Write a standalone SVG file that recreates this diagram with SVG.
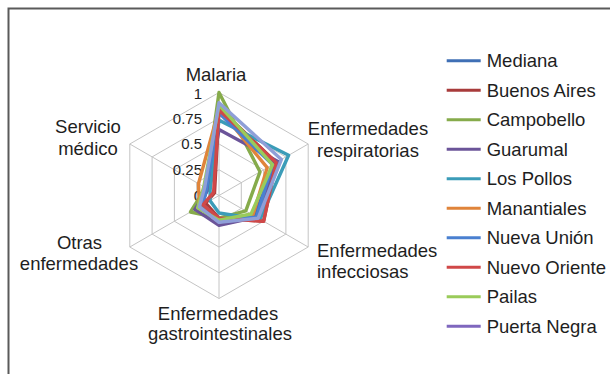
<svg xmlns="http://www.w3.org/2000/svg" width="610" height="374" viewBox="0 0 610 374">
<style>
text{font-family:"Liberation Sans",Arial,sans-serif;fill:#1e1e1e}
.lab{font-size:18.5px}
.tick{font-size:15px;text-anchor:end}
.grid{fill:none;stroke:#c4c4c4;stroke-width:1}
.s{fill:none;stroke-width:3.4;stroke-linejoin:round}
.leg{stroke-width:3}
</style>
<rect width="610" height="374" fill="#fff"/>
<rect x="8.5" y="8.5" width="620" height="390" fill="none" stroke="#5a5a5a" stroke-width="2"/>
<g id="grid">
<polygon class="grid" points="219,92.5 308.2,144 308.2,247 219,298.5 129.8,247 129.8,144"/>
<polygon class="grid" points="219,118.25 285.9,156.9 285.9,234.1 219,272.75 152.1,234.1 152.1,156.9"/>
<polygon class="grid" points="219,144 263.6,169.75 263.6,221.25 219,247 174.4,221.25 174.4,169.75"/>
<polygon class="grid" points="219,169.75 241.3,182.6 241.3,208.4 219,221.25 196.7,208.4 196.7,182.6"/>
<path class="grid" d="M219,195.5V92.5M219,195.5L308.2,144M219,195.5L308.2,247M219,195.5V298.5M219,195.5L129.8,247M219,195.5L129.8,144"/>
</g>
<g id="ticks">
<text class="tick" x="202" y="98.8">1</text>
<text class="tick" x="202" y="123.5">0.75</text>
<text class="tick" x="202" y="149.3">0.5</text>
<text class="tick" x="202" y="175">0.25</text>
<text class="tick" x="202" y="200.8">0</text>
</g>
<g id="axis-labels">
<text class="lab" x="216" y="80.5" text-anchor="middle">Malaria</text>
<text class="lab" x="368" y="134.5" text-anchor="middle">Enfermedades</text>
<text class="lab" x="368" y="156.5" text-anchor="middle">respiratorias</text>
<text class="lab" x="317" y="256.5">Enfermedades</text>
<text class="lab" x="317" y="278.3">infecciosas</text>
<text class="lab" x="218" y="319.8" text-anchor="middle">Enfermedades</text>
<text class="lab" x="220" y="339.8" text-anchor="middle">gastrointestinales</text>
<text class="lab" x="79.5" y="249" text-anchor="middle">Otras</text>
<text class="lab" x="79" y="269.5" text-anchor="middle">enfermedades</text>
<text class="lab" x="88" y="133.3" text-anchor="middle">Servicio</text>
<text class="lab" x="88" y="155" text-anchor="middle">médico</text>
</g>
<g id="series">
<polygon id="s-mediana" class="s" stroke="#3f6fb5" points="219,111 274.3,163.6 254.7,216.1 219,219.2 201.2,205.8 207.4,188.8"/>
<polygon id="s-buenosaires" class="s" stroke="#a83b3b" points="219,107.9 276.1,162.5 263.6,221.25 219,218.2 205.6,203.2 214.5,192.9"/>
<polygon id="s-campobello" class="s" stroke="#86ab4b" points="219,92.5 260,171.8 245.8,210.95 219,218.2 190.5,212 205.6,187.8"/>
<polygon id="s-guarumal" class="s" stroke="#6b5499" points="219,129.6 277.9,161.5 256.5,217.1 219,225.4 194.9,209.4 208.3,189.3"/>
<polygon id="s-lospollos" class="s" stroke="#3b9cb8" points="219,120.3 288.6,155.3 260,219.2 219,213 210.1,200.65 210.1,190.35"/>
<polygon id="s-manantiales" class="s" stroke="#e0843a" points="219,109 267.2,167.7 252.9,215.1 219,221.25 199.4,206.8 198.5,183.7"/>
<polygon id="s-nuevaunion" class="s" stroke="#4a80d0" points="219,113.1 272.5,164.6 256.5,217.1 219,219.2 202.9,204.8 206.5,188.3"/>
<polygon id="s-nuevooriente" class="s" stroke="#d04848" points="219,110 276.1,162.5 263.6,221.25 219,218.2 202.9,204.8 213.6,192.4"/>
<polygon id="s-pailas" class="s" stroke="#9acb5a" points="219,104.9 272.5,164.6 251.1,214 219,220.2 197.6,207.9 203.8,186.7"/>
<polygon id="s-puertanegra" class="s" stroke="#8f9fd8" points="219,102.8 281.4,159.45 258.2,218.2 219,222.3 199.4,206.8 204.7,187.3"/>
</g>
<g id="legend">
<line class="leg" x1="446.7" y1="60.7" x2="480.7" y2="60.7" stroke="#3f6fb5"/>
<text class="lab" x="486.7" y="67.2">Mediana</text>
<line class="leg" x1="446.7" y1="90.2" x2="480.7" y2="90.2" stroke="#a83b3b"/>
<text class="lab" x="486.7" y="96.7">Buenos Aires</text>
<line class="leg" x1="446.7" y1="119.7" x2="480.7" y2="119.7" stroke="#86ab4b"/>
<text class="lab" x="486.7" y="126.2">Campobello</text>
<line class="leg" x1="446.7" y1="149.2" x2="480.7" y2="149.2" stroke="#6b5499"/>
<text class="lab" x="486.7" y="155.7">Guarumal</text>
<line class="leg" x1="446.7" y1="178.7" x2="480.7" y2="178.7" stroke="#3b9cb8"/>
<text class="lab" x="486.7" y="185.2">Los Pollos</text>
<line class="leg" x1="446.7" y1="208.2" x2="480.7" y2="208.2" stroke="#e0843a"/>
<text class="lab" x="486.7" y="214.7">Manantiales</text>
<line class="leg" x1="446.7" y1="237.7" x2="480.7" y2="237.7" stroke="#4a80d0"/>
<text class="lab" x="486.7" y="244.2">Nueva Unión</text>
<line class="leg" x1="446.7" y1="267.2" x2="480.7" y2="267.2" stroke="#d04848"/>
<text class="lab" x="486.7" y="273.7">Nuevo Oriente</text>
<line class="leg" x1="446.7" y1="296.7" x2="480.7" y2="296.7" stroke="#9acb5a"/>
<text class="lab" x="486.7" y="303.2">Pailas</text>
<line class="leg" x1="446.7" y1="326.2" x2="480.7" y2="326.2" stroke="#7f67be"/>
<text class="lab" x="486.7" y="332.7">Puerta Negra</text>
</g>
</svg>
